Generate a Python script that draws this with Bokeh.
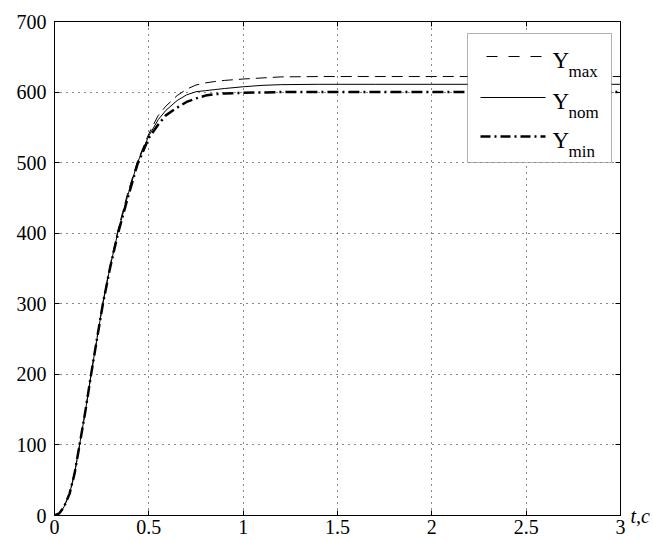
from bokeh.plotting import figure
from bokeh.models import Range1d, LinearAxis, FixedTicker, BoxAnnotation, Label
from bokeh.embed import file_html
from bokeh.resources import INLINE

# ---- data ----
t = [0, 0.025, 0.05, 0.08, 0.106, 0.133, 0.165, 0.194, 0.225, 0.256, 0.293,
     0.335, 0.385, 0.44, 0.5, 0.55, 0.59, 0.65, 0.7, 0.75, 0.8, 0.85, 0.9,
     1.0, 1.1, 1.2, 1.4, 1.7, 2.0, 2.5, 3.0]
y_max = [0, 3, 12, 31, 59, 100, 150, 200, 251, 301, 352, 403, 454, 502,
         541, 567, 580, 595, 604, 610, 613, 615, 616.5, 618.5, 620, 621.5,
         622, 622, 622, 622, 622]
y_nom = [0, 3, 12, 31, 59, 100, 150, 200, 250, 300, 350, 400, 450, 500,
         538, 561, 574, 588, 596, 600.5, 602, 603.5, 605, 607.5, 609.5, 610.5,
         611, 611, 611, 611, 611]
y_min = [0, 3, 12, 31, 59, 100, 150, 200, 250, 299, 349, 398, 447, 498,
         535, 554, 567, 578, 586, 591, 595, 597, 598, 599, 599.5, 600,
         600, 600, 600, 600, 600]

x_ticks = [0, 0.5, 1, 1.5, 2, 2.5, 3]
x_tick_labels = ["0", "0.5", "1", "1.5", "2", "2.5", "3"]
y_ticks = [0, 100, 200, 300, 400, 500, 600, 700]
series_names = ["max", "nom", "min"]
x_label = "t,c"

# ---- layout ----
FL, FR, FT, FB = 54, 620, 21, 515
XMAX, YMAX = 3.0, 700.0


def dx(px):
    return (px - FL) / (FR - FL) * XMAX


def dy(py):
    return (FB - py) / (FB - FT) * YMAX


SERIF = "Liberation Serif"

p = figure(width=653, height=540, x_range=Range1d(0, XMAX), y_range=Range1d(0, YMAX),
           output_backend="svg", toolbar_location=None,
           min_border_left=FL, min_border_right=653 - FR, min_border_top=FT,
           min_border_bottom=25)
p.background_fill_color = "white"
p.border_fill_color = "white"
p.outline_line_color = "black"
p.outline_line_width = 1

xt = FixedTicker(ticks=x_ticks)
yt = FixedTicker(ticks=y_ticks)
overrides = {float(v): s for v, s in zip(x_ticks, x_tick_labels)}

for ax in p.xaxis:
    ax.ticker = xt
    ax.major_label_overrides = overrides
for ax in p.yaxis:
    ax.ticker = yt

for ax in list(p.xaxis) + list(p.yaxis):
    ax.axis_line_color = "black"
    ax.major_tick_in = 5
    ax.major_tick_out = 0
    ax.minor_tick_line_color = None
    ax.major_tick_line_color = "black"
    ax.major_label_text_font = SERIF
    ax.major_label_text_font_size = "20px"
    ax.major_label_text_color = "black"
p.xaxis.major_label_standoff = 4
p.yaxis.major_label_standoff = 8

# top axis: ticks only
top = LinearAxis(ticker=xt, major_tick_in=5, major_tick_out=0,
                 minor_tick_line_color=None, axis_line_color="black",
                 major_label_text_font_size="1px", major_label_standoff=0,
                 major_label_overrides={float(v): "" for v in x_ticks})
# right axis: ticks, plus the time-axis name at the lower end
right_over = {float(v): "" for v in y_ticks}
right_over[float(y_ticks[0])] = x_label
right = LinearAxis(ticker=yt, major_tick_in=5, major_tick_out=0,
                   minor_tick_line_color=None, axis_line_color="black",
                   major_label_text_font=SERIF, major_label_text_font_style="italic",
                   major_label_text_font_size="20px", major_label_text_color="black",
                   major_label_standoff=10, major_label_overrides=right_over)
p.add_layout(top, "above")
p.add_layout(right, "right")

p.xgrid.ticker = xt
p.ygrid.ticker = yt
for g in (p.xgrid, p.ygrid):
    g.grid_line_color = "#111111"
    g.grid_line_dash = "1 5"
    g.grid_line_width = 1

# curves
p.line(t, y_max, line_color="black", line_width=1, line_dash="11 6")
p.line(t, y_nom, line_color="black", line_width=1)
p.line(t, y_min, line_color="black", line_width=2.5, line_dash="11 4 2 4")

# legend (drawn manually so that subscripts can be shown)
box = BoxAnnotation(left=dx(467), right=dx(611), top=dy(33), bottom=dy(162),
                    fill_color="white", fill_alpha=1.0, line_color="black",
                    line_width=1, level="annotation")
p.add_layout(box)

styles = [dict(line_width=1, line_dash="11 11"),
          dict(line_width=1),
          dict(line_width=2.5, line_dash="10 4 2 4")]
rows_px = [56, 97, 136]
starts_px = [486, 480, 480]
for name, st, ry, sx in zip(series_names, styles, rows_px, starts_px):
    r = p.line([dx(sx), dx(545)], [dy(ry), dy(ry)], line_color="black", **st)
    r.level = "overlay"
    p.add_layout(Label(x=dx(552), y=dy(ry + 3.5), text="Y", text_font=SERIF,
                       text_font_size="23px", text_color="black",
                       text_baseline="alphabetic", level="overlay"))
    p.add_layout(Label(x=dx(568), y=dy(ry + 15), text=name, text_font=SERIF,
                       text_font_size="17px", text_color="black",
                       text_baseline="alphabetic", level="overlay"))

open("out.html", "w").write(file_html(p, INLINE))
